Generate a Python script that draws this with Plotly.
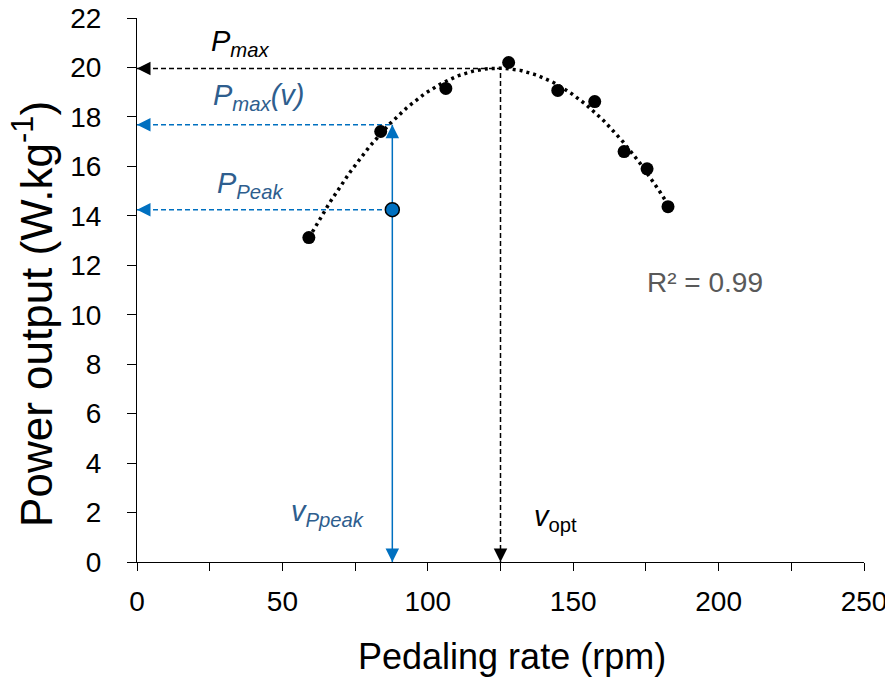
import numpy as np
import plotly.graph_objects as go

# Data
rate = [59.1, 83.8, 106.2, 127.8, 144.7, 157.4, 167.5, 175.4, 182.6]
power = [13.12, 17.41, 19.15, 20.2, 19.07, 18.62, 16.6, 15.9, 14.37]
v_ppeak = 87.8
p_peak = 14.25
v_opt = 125.0
p_max = 19.96
p_max_v = 17.68

x_ticks = [0, 25, 50, 75, 100, 125, 150, 175, 200, 225, 250]
x_ticktext = ["0", "", "50", "", "100", "", "150", "", "200", "", "250"]
y_ticks = list(range(0, 23, 2))

# second-order trendline fitted on the data
coef = np.polyfit(rate, power, 2)
xs = np.linspace(min(rate), max(rate), 200)
ys = np.polyval(coef, xs)

FONT = "Liberation Sans, Arial, sans-serif"
BLUE = "#0070C0"
BLUE_TXT = "#2E5E8E"

fig = go.Figure()

# trendline
fig.add_trace(go.Scatter(x=xs, y=ys, mode="lines",
                         line=dict(color="black", width=3.5, dash="3px,4px"),
                         hoverinfo="skip", showlegend=False))

# black dashed guide lines
fig.add_trace(go.Scatter(x=[0, v_opt, v_opt], y=[p_max, p_max, 0], mode="lines",
                         line=dict(color="black", width=1.5, dash="5px,3px"),
                         showlegend=False))
# blue dashed guide lines
fig.add_trace(go.Scatter(x=[0, v_ppeak], y=[p_max_v, p_max_v], mode="lines",
                         line=dict(color=BLUE, width=1.5, dash="5px,3px"),
                         showlegend=False))
fig.add_trace(go.Scatter(x=[0, v_ppeak], y=[p_peak, p_peak], mode="lines",
                         line=dict(color=BLUE, width=1.5, dash="5px,3px"),
                         showlegend=False))
# blue solid vertical
fig.add_trace(go.Scatter(x=[v_ppeak, v_ppeak], y=[0, p_max_v], mode="lines",
                         line=dict(color=BLUE, width=1.5),
                         showlegend=False))

# data points
fig.add_trace(go.Scatter(x=rate, y=power, mode="markers",
                         marker=dict(color="black", size=13),
                         showlegend=False))
fig.add_trace(go.Scatter(x=[v_ppeak], y=[p_peak], mode="markers",
                         marker=dict(color=BLUE, size=14, line=dict(color="black", width=1.5)),
                         showlegend=False))

def arrow(x, y, ax, ay, color):
    fig.add_annotation(x=x, y=y, ax=ax, ay=ay, text="", showarrow=True,
                       arrowhead=2, arrowsize=1.8, arrowwidth=1.5,
                       arrowcolor=color, standoff=0)

arrow(0, p_max, 12, 0, "black")
arrow(v_opt, 0, 0, -12, "black")
arrow(0, p_max_v, 12, 0, BLUE)
arrow(0, p_peak, 12, 0, BLUE)
arrow(v_ppeak, 0, 0, -12, BLUE)
arrow(v_ppeak, p_max_v, 0, 12, BLUE)

def label(x, y, text, color, size=29):
    fig.add_annotation(x=x, y=y, text=text, showarrow=False,
                       font=dict(family=FONT, size=size, color=color))

label(35.7, 21.0, "<i>P</i><sub><i>max</i></sub>", "black")
label(41.9, 18.8, "<i>P</i><sub><i>max</i></sub><i>(v)</i>", BLUE_TXT)
label(38.8, 15.26, "<i>P</i><sub><i>Peak</i></sub>", BLUE_TXT)
label(65.6, 1.98, "<i>v</i><sub><i>Ppeak</i></sub>", BLUE_TXT)
label(144, 1.78, "<i>v</i><sub>opt</sub>", "black")
label(195.3, 11.3, "R² = 0.99", "#595959", size=28)

# axis titles as annotations (placed like the reference)
fig.add_annotation(xref="paper", yref="paper", x=0.516, y=-0.1746,
                   text="Pedaling rate (rpm)", showarrow=False,
                   xanchor="center", yanchor="middle",
                   font=dict(family=FONT, size=36, color="black"))
fig.add_annotation(xref="paper", yref="paper", x=0, y=0.456, xshift=-104,
                   text="Power output (W.kg<sup>-1</sup>)", showarrow=False,
                   textangle=-90, xanchor="center", yanchor="middle",
                   font=dict(family=FONT, size=44, color="black"))

# page body has an 8px margin, so the figure is sized to fit the 893x685 window
fig.update_layout(
    width=885, height=677,
    margin=dict(l=129, r=29, t=10, b=123),
    plot_bgcolor="white", paper_bgcolor="white",
    font=dict(family=FONT, color="black"),
    showlegend=False,
    xaxis=dict(range=[0, 250], tickvals=x_ticks, ticktext=x_ticktext,
               ticks="outside", ticklen=8, tickwidth=1, tickcolor="black",
               showline=True, linecolor="black", linewidth=1,
               showgrid=False, zeroline=False, automargin=False,
               ticklabeloverflow="allow",
               tickfont=dict(size=28, color="black"), ticklabelstandoff=6),
    yaxis=dict(range=[0, 22], tickvals=y_ticks,
               ticks="outside", ticklen=9, tickwidth=1, tickcolor="black",
               showline=True, linecolor="black", linewidth=1,
               showgrid=False, zeroline=False, automargin=False,
               ticklabeloverflow="allow",
               tickfont=dict(size=28, color="black"), ticklabelstandoff=20),
)

fig.write_html("out.html")
